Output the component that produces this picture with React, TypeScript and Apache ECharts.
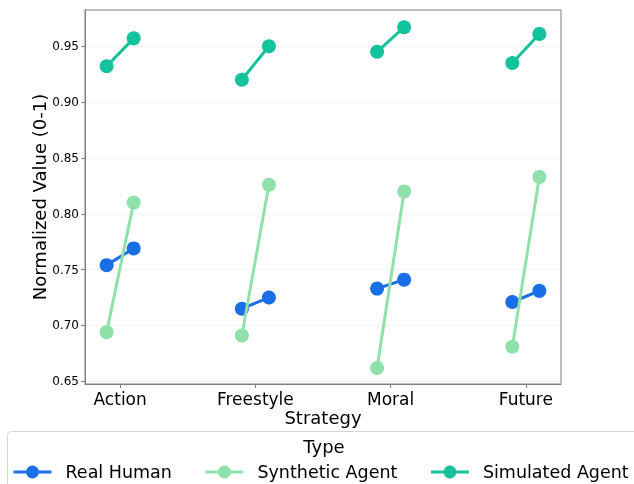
import React, { useEffect, useRef } from "react";
import * as echarts from "echarts";

const categories = ["Action", "Freestyle", "Moral", "Future"];
const seriesNames = ["Real Human", "Synthetic Agent", "Simulated Agent"];
const realHumanStart = [0.754, 0.715, 0.733, 0.721];
const realHumanEnd = [0.769, 0.725, 0.741, 0.731];
const syntheticStart = [0.694, 0.691, 0.662, 0.681];
const syntheticEnd = [0.810, 0.826, 0.820, 0.833];
const simulatedStart = [0.932, 0.920, 0.945, 0.935];
const simulatedEnd = [0.957, 0.950, 0.967, 0.961];
const yTicks = [0.65, 0.7, 0.75, 0.8, 0.85, 0.9, 0.95];
const colors = ["#1a6ee6", "#8fe1ab", "#14c29b"];

const FONT = "DejaVu Sans";

function buildPairs(start: number[], end: number[]) {
  const out: any[] = [];
  start.forEach((s, i) => {
    out.push([i - 0.1, s]);
    out.push([i + 0.1, end[i]]);
    out.push([i + 0.5, "-"]);
  });
  return out;
}

export default function App() {
  const ref = useRef<HTMLDivElement>(null);
  useEffect(() => {
    if (!ref.current) return;
    const chart = echarts.init(ref.current, null, { renderer: "svg" });
    const pairs = [
      buildPairs(realHumanStart, realHumanEnd),
      buildPairs(syntheticStart, syntheticEnd),
      buildPairs(simulatedStart, simulatedEnd),
    ];
    chart.setOption({
      animation: false,
      textStyle: { fontFamily: FONT },
      grid: {
        left: 85,
        right: 73,
        top: 10,
        bottom: 100,
        show: true,
        borderColor: "#7f7f7f",
        borderWidth: 1,
        backgroundColor: "transparent",
      },
      xAxis: {
        type: "value",
        min: -0.26,
        max: 3.26,
        name: "Strategy",
        nameLocation: "middle",
        nameGap: 24,
        nameMoveOverlap: false,
        nameTextStyle: { fontSize: 18, color: "#000", fontFamily: FONT },
        axisLine: { show: true, onZero: false, lineStyle: { color: "#7f7f7f" } },
        axisTick: { show: true, customValues: [0, 1, 2, 3], length: 4, lineStyle: { color: "#7f7f7f" } },
        axisLabel: {
          customValues: [0, 1, 2, 3],
          formatter: (v: number) => categories[Math.round(v)] ?? "",
          fontSize: 17,
          color: "#000",
          margin: 6,
          fontFamily: FONT,
        },
        splitLine: { show: false },
      },
      yAxis: {
        type: "value",
        min: 0.6476,
        max: 0.9824,
        name: "Normalized Value (0-1)",
        nameLocation: "middle",
        nameGap: 37,
        nameMoveOverlap: false,
        nameTextStyle: { fontSize: 18, color: "#000", fontFamily: FONT },
        axisLine: { show: true, onZero: false, lineStyle: { color: "#7f7f7f" } },
        axisTick: { show: true, customValues: yTicks, length: 4, lineStyle: { color: "#7f7f7f" } },
        axisLabel: {
          customValues: yTicks,
          formatter: (v: number) => v.toFixed(2),
          fontSize: 12,
          color: "#000",
          margin: 6,
          fontFamily: FONT,
        },
        splitLine: {
          show: true,
          customValues: yTicks,
          lineStyle: { color: "#e3e3e3", type: [2, 2], width: 0.8 },
        },
      },
      legend: {
        left: 12,
        top: 463,
        width: 800,
        padding: 0,
        itemWidth: 38,
        itemHeight: 16,
        itemGap: 32,
        z: 10,
        lineStyle: { width: 3 },
        textStyle: { fontSize: 17.5, color: "#000", fontFamily: FONT, padding: [0, 0, 0, 9] },
        data: seriesNames,
      },
      graphic: [
        {
          type: "rect",
          z: 5,
          shape: { x: 7.5, y: 431.5, width: 640, height: 70, r: 4 },
          style: { fill: "#fff", stroke: "#d6d6d6", lineWidth: 1 },
        },
        {
          type: "text",
          z: 6,
          x: 324,
          y: 446,
          style: {
            text: "Type",
            font: `18px '${FONT}'`,
            fill: "#000",
            align: "center",
            verticalAlign: "middle",
          },
        },
      ],
      series: seriesNames.map((name, k) => ({
        name,
        type: "line",
        data: pairs[k],
        connectNulls: false,
        symbol: "circle",
        symbolSize: 14,
        color: colors[k],
        lineStyle: { width: 3, color: colors[k] },
        itemStyle: { color: colors[k] },
        z: 2 + k,
      })),
    });
    return () => chart.dispose();
  }, []);
  return (
    <div
      ref={ref}
      style={{ position: "fixed", left: 0, top: 0, width: 634, height: 484 }}
    />
  );
}
